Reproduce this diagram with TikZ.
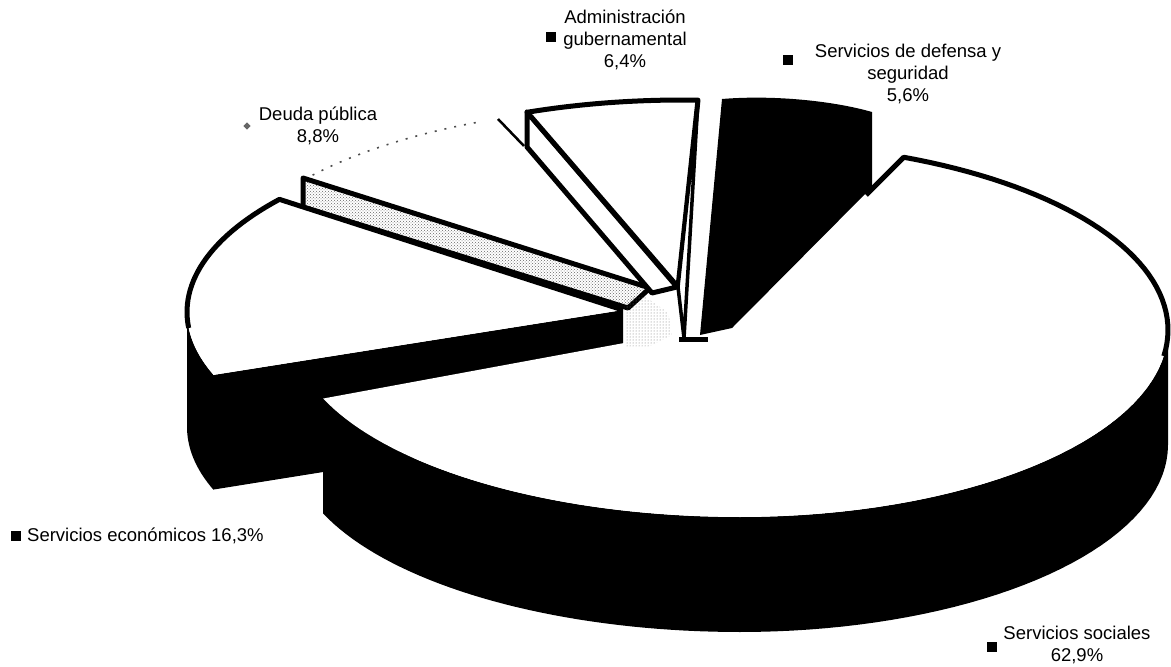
\documentclass[tikz,border=0pt]{standalone}
\usepackage{fontspec}
\setmainfont{Liberation Sans}
\usetikzlibrary{patterns}
\begin{document}
\begin{tikzpicture}[x=1pt,y=-1pt,
  lbl/.style={font=\fontsize{18.5}{22}\selectfont, align=center, inner sep=0pt},
  sq/.style={fill=black, minimum size=10pt, inner sep=0pt},
  edge/.style={line width=5pt, line join=round},
  side/.style={fill=black},
  face/.style={fill=white},
  speck/.style={pattern=crosshatch dots, pattern color=black!60},
  lightspeck/.style={pattern=dots, pattern color=black!55},
  dotted arc/.style={line width=1.6pt, black!70, dash pattern=on 2pt off 8pt}]
\useasboundingbox (0,0) rectangle (1171,667);

% ---------- Deuda publica (8,8%) ----------
\draw[dotted arc] plot[domain=217:247,samples=30] ({652+436*cos(\x)},{290+183*sin(\x)});
\draw[line width=2.5pt] (498,119) -- (524,146);
\fill[white] (303,178) -- (650,288) -- (628,308) -- (303,207) -- cycle;
\draw[edge, speck] (303,178) -- (650,288) -- (628,308) -- (303,207) -- cycle;

% ---------- Servicios economicos (16,3%) ----------
\fill[side] (213,375) -- plot[domain=160:180,samples=20] ({623+436*cos(\x)},{312+183*sin(\x)})
  -- (187,427) -- plot[domain=180:160,samples=20] ({623+436*cos(\x)},{427+183*sin(\x)})
  -- (623,424) -- (623,310) -- cycle;
\fill[face] (623,310) -- (213,375) -- plot[domain=160:218,samples=30] ({623+436*cos(\x)},{312+183*sin(\x)}) -- cycle;
\draw[edge] plot[domain=175:218,samples=30] ({623+436*cos(\x)},{312+183*sin(\x)}) -- (623,310);

% ---------- Servicios sociales (62,9%) ----------
\fill[side] plot[domain=158.5:90,samples=40] ({740+448*cos(\x)},{330+187*sin(\x)})
  -- plot[domain=90:0,samples=40] ({740+428*cos(\x)},{330+187*sin(\x)})
  -- (1168,445)
  -- plot[domain=0:90,samples=40] ({740+428*cos(\x)},{445+187*sin(\x)})
  -- plot[domain=90:158.5,samples=40] ({740+448*cos(\x)},{445+187*sin(\x)}) -- cycle;
\fill[face] (738,322) -- plot[domain=158.5:90,samples=40] ({740+448*cos(\x)},{330+187*sin(\x)})
  -- plot[domain=90:-67.5,samples=60] ({740+428*cos(\x)},{330+187*sin(\x)}) -- cycle;
\draw[edge] (866,195) -- plot[domain=-67.5:8,samples=40] ({740+428*cos(\x)},{330+187*sin(\x)});

% speckled centre
\fill[lightspeck] (624,300) -- (642,295) -- (668,312) -- (672,335) -- (650,346) -- (626,346) -- cycle;

% ---------- Servicios de defensa y seguridad (5,6%) ----------
\fill (722,99) .. controls (770,95) and (830,100) .. (872,112) -- (872,187) -- (732,328) -- (700,335) -- cycle;

% ---------- Administracion gubernamental (6,4%) ----------
\filldraw[face, edge] (527,112) -- (677,287) -- (652,293) -- (527,147) -- cycle;
\filldraw[face, edge] (527,112) -- plot[domain=249.2:272.1,samples=20] ({682+436*cos(\x)},{288+188*sin(\x)}) -- (678,287) -- cycle;
\filldraw[face, line width=3.5pt, line join=round] (698,100) -- (684,338) -- (678,287) -- cycle;
\draw[line width=5pt] (679,339) -- (708,339);

% ---------- labels ----------
\node[sq] (mA) at (551,37) {};
\node[lbl] (tA) at (625,40) {Administración\\gubernamental\\6,4\%};
\node[sq] (mD) at (788,60) {};
\node[lbl] (tD) at (908,74) {Servicios de defensa y\\seguridad\\5,6\%};
\node[fill=black!60, minimum size=5pt, inner sep=0pt, rotate=45] (mP) at (247,126) {};
\node[lbl] (tP) at (318,126) {Deuda pública\\8,8\%};
\node[sq] (mE) at (16,536) {};
\node[lbl, anchor=west] (tE) at (27,536) {Servicios económicos 16,3\%};
\node[sq] (mS) at (992,647) {};
\node[lbl] (tS) at (1077,645) {Servicios sociales\\62,9\%};
\end{tikzpicture}
\end{document}
